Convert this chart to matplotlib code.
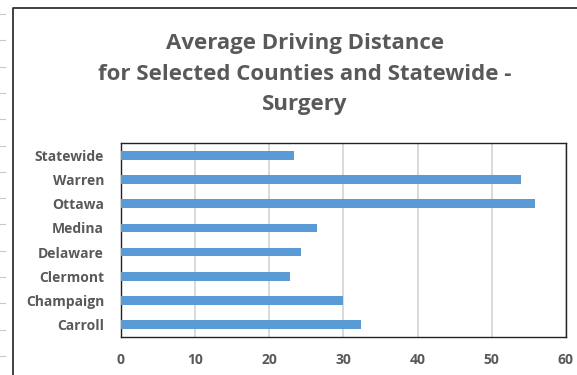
import matplotlib
matplotlib.use("Agg")
import matplotlib.pyplot as plt
from matplotlib.lines import Line2D
import numpy as np

# Average driving distance (miles) to surgery, bottom-to-top as drawn
COUNTIES = ["Carroll", "Champaign", "Clermont", "Delaware", "Medina", "Ottawa", "Warren", "Statewide"]
DISTANCE = [32.4, 29.9, 22.8, 24.3, 26.5, 55.8, 54.0, 23.4]
XTICKS = [0, 10, 20, 30, 40, 50, 60]
TITLE = "Average Driving Distance\nfor Selected Counties and Statewide -\nSurgery"

plt.rcParams["font.family"] = ["Open Sans", "DejaVu Sans"]
GRAY = "#595959"

fig = plt.figure(figsize=(5.77, 3.75), dpi=100)
W, H = 577, 375

# spreadsheet row lines peeking out on the left edge
for y in np.arange(14, 375, 26.3):
    fig.add_artist(Line2D([0, 5 / W], [1 - y / H] * 2, color="#c8c8c8", lw=0.8))

# chart-area border
fig.add_artist(Line2D([13 / W, 13 / W, 1], [0, 1 - 8 / H, 1 - 8 / H], color="#333333", lw=1.3))

ax = fig.add_axes([120.7 / W, 1 - 336.7 / H, (566 - 120.7) / W, (336.7 - 143.3) / H])
y = np.arange(len(COUNTIES))
ax.barh(y, DISTANCE, height=0.36, color="#5b9bd5", zorder=3)
ax.set_ylim(-0.5, len(COUNTIES) - 0.5)
ax.set_xlim(XTICKS[0], XTICKS[-1])
ax.set_xticks(XTICKS)
ax.set_yticks(y)
ax.set_yticklabels(COUNTIES)
ax.xaxis.grid(True, color="#d9d9d9", lw=1.4, zorder=0)
ax.tick_params(length=0, labelsize=10, labelcolor=GRAY)
ax.tick_params(axis="x", pad=12)
ax.tick_params(axis="y", pad=12)
for lab in ax.get_xticklabels() + ax.get_yticklabels():
    lab.set_fontweight("bold")
for s in ax.spines.values():
    s.set_color("#222222")
    s.set_linewidth(1.0)

fig.text(305 / W, 1 - 74 / H, TITLE, ha="center", va="center", fontsize=16,
         fontweight="bold", color=GRAY, linespacing=1.62)

fig.savefig("out.png", dpi=100)
